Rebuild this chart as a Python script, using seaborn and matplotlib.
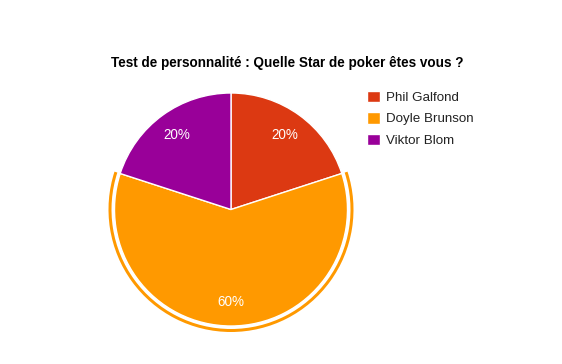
import matplotlib
matplotlib.use("Agg")
import matplotlib.pyplot as plt
import seaborn as sns

title = "Test de personnalité : Quelle Star de poker êtes vous ?"
categories = ["Phil Galfond", "Doyle Brunson", "Viktor Blom"]
values = [20, 60, 20]
colors = ["#DC3912", "#FF9900", "#990099"]
highlighted = "Doyle Brunson"

sns.set_style("white")
plt.rcParams['font.family'] = ['Liberation Sans', 'DejaVu Sans']

W, H = 562, 364
fig = plt.figure(figsize=(W / 100, H / 100), dpi=100)
ax = fig.add_axes([0, 0, 1, 1])

cx, cy, r = 231, H - 209.5, 116.5

wedges, texts, autotexts = ax.pie(
    values, colors=colors, startangle=90, counterclock=False,
    center=(cx, cy), radius=r, autopct='%1.0f%%', pctdistance=0.79,
    wedgeprops=dict(edgecolor='white', linewidth=1.0),
    textprops=dict(color='white', fontsize=9.75), frame=True)

# highlight ring around the selected slice
ring_colors = [c if cat == highlighted else 'none' for cat, c in zip(categories, colors)]
ax.pie(values, colors=ring_colors, startangle=90, counterclock=False,
       center=(cx, cy), radius=r + 6.0,
       wedgeprops=dict(width=3.0, edgecolor='none', linewidth=0), frame=True)
ax.set_xlim(0, W)
ax.set_ylim(0, H)
ax.set_axis_off()

fig.text(287.5 / W, 1 - 62.5 / H, title, ha='center', va='center',
         fontsize=9.75, fontweight='bold', color='black')

leg = fig.legend(wedges, categories, loc='upper left',
                 bbox_to_anchor=(363 / W, 1 - 86.5 / H), frameon=False,
                 fontsize=9.6, handlelength=0.95, handleheight=0.95,
                 handletextpad=0.45, labelspacing=0.62, borderpad=0.3,
                 borderaxespad=0)
for t in leg.get_texts():
    t.set_color('#222222')

fig.savefig("out.png", dpi=100)
